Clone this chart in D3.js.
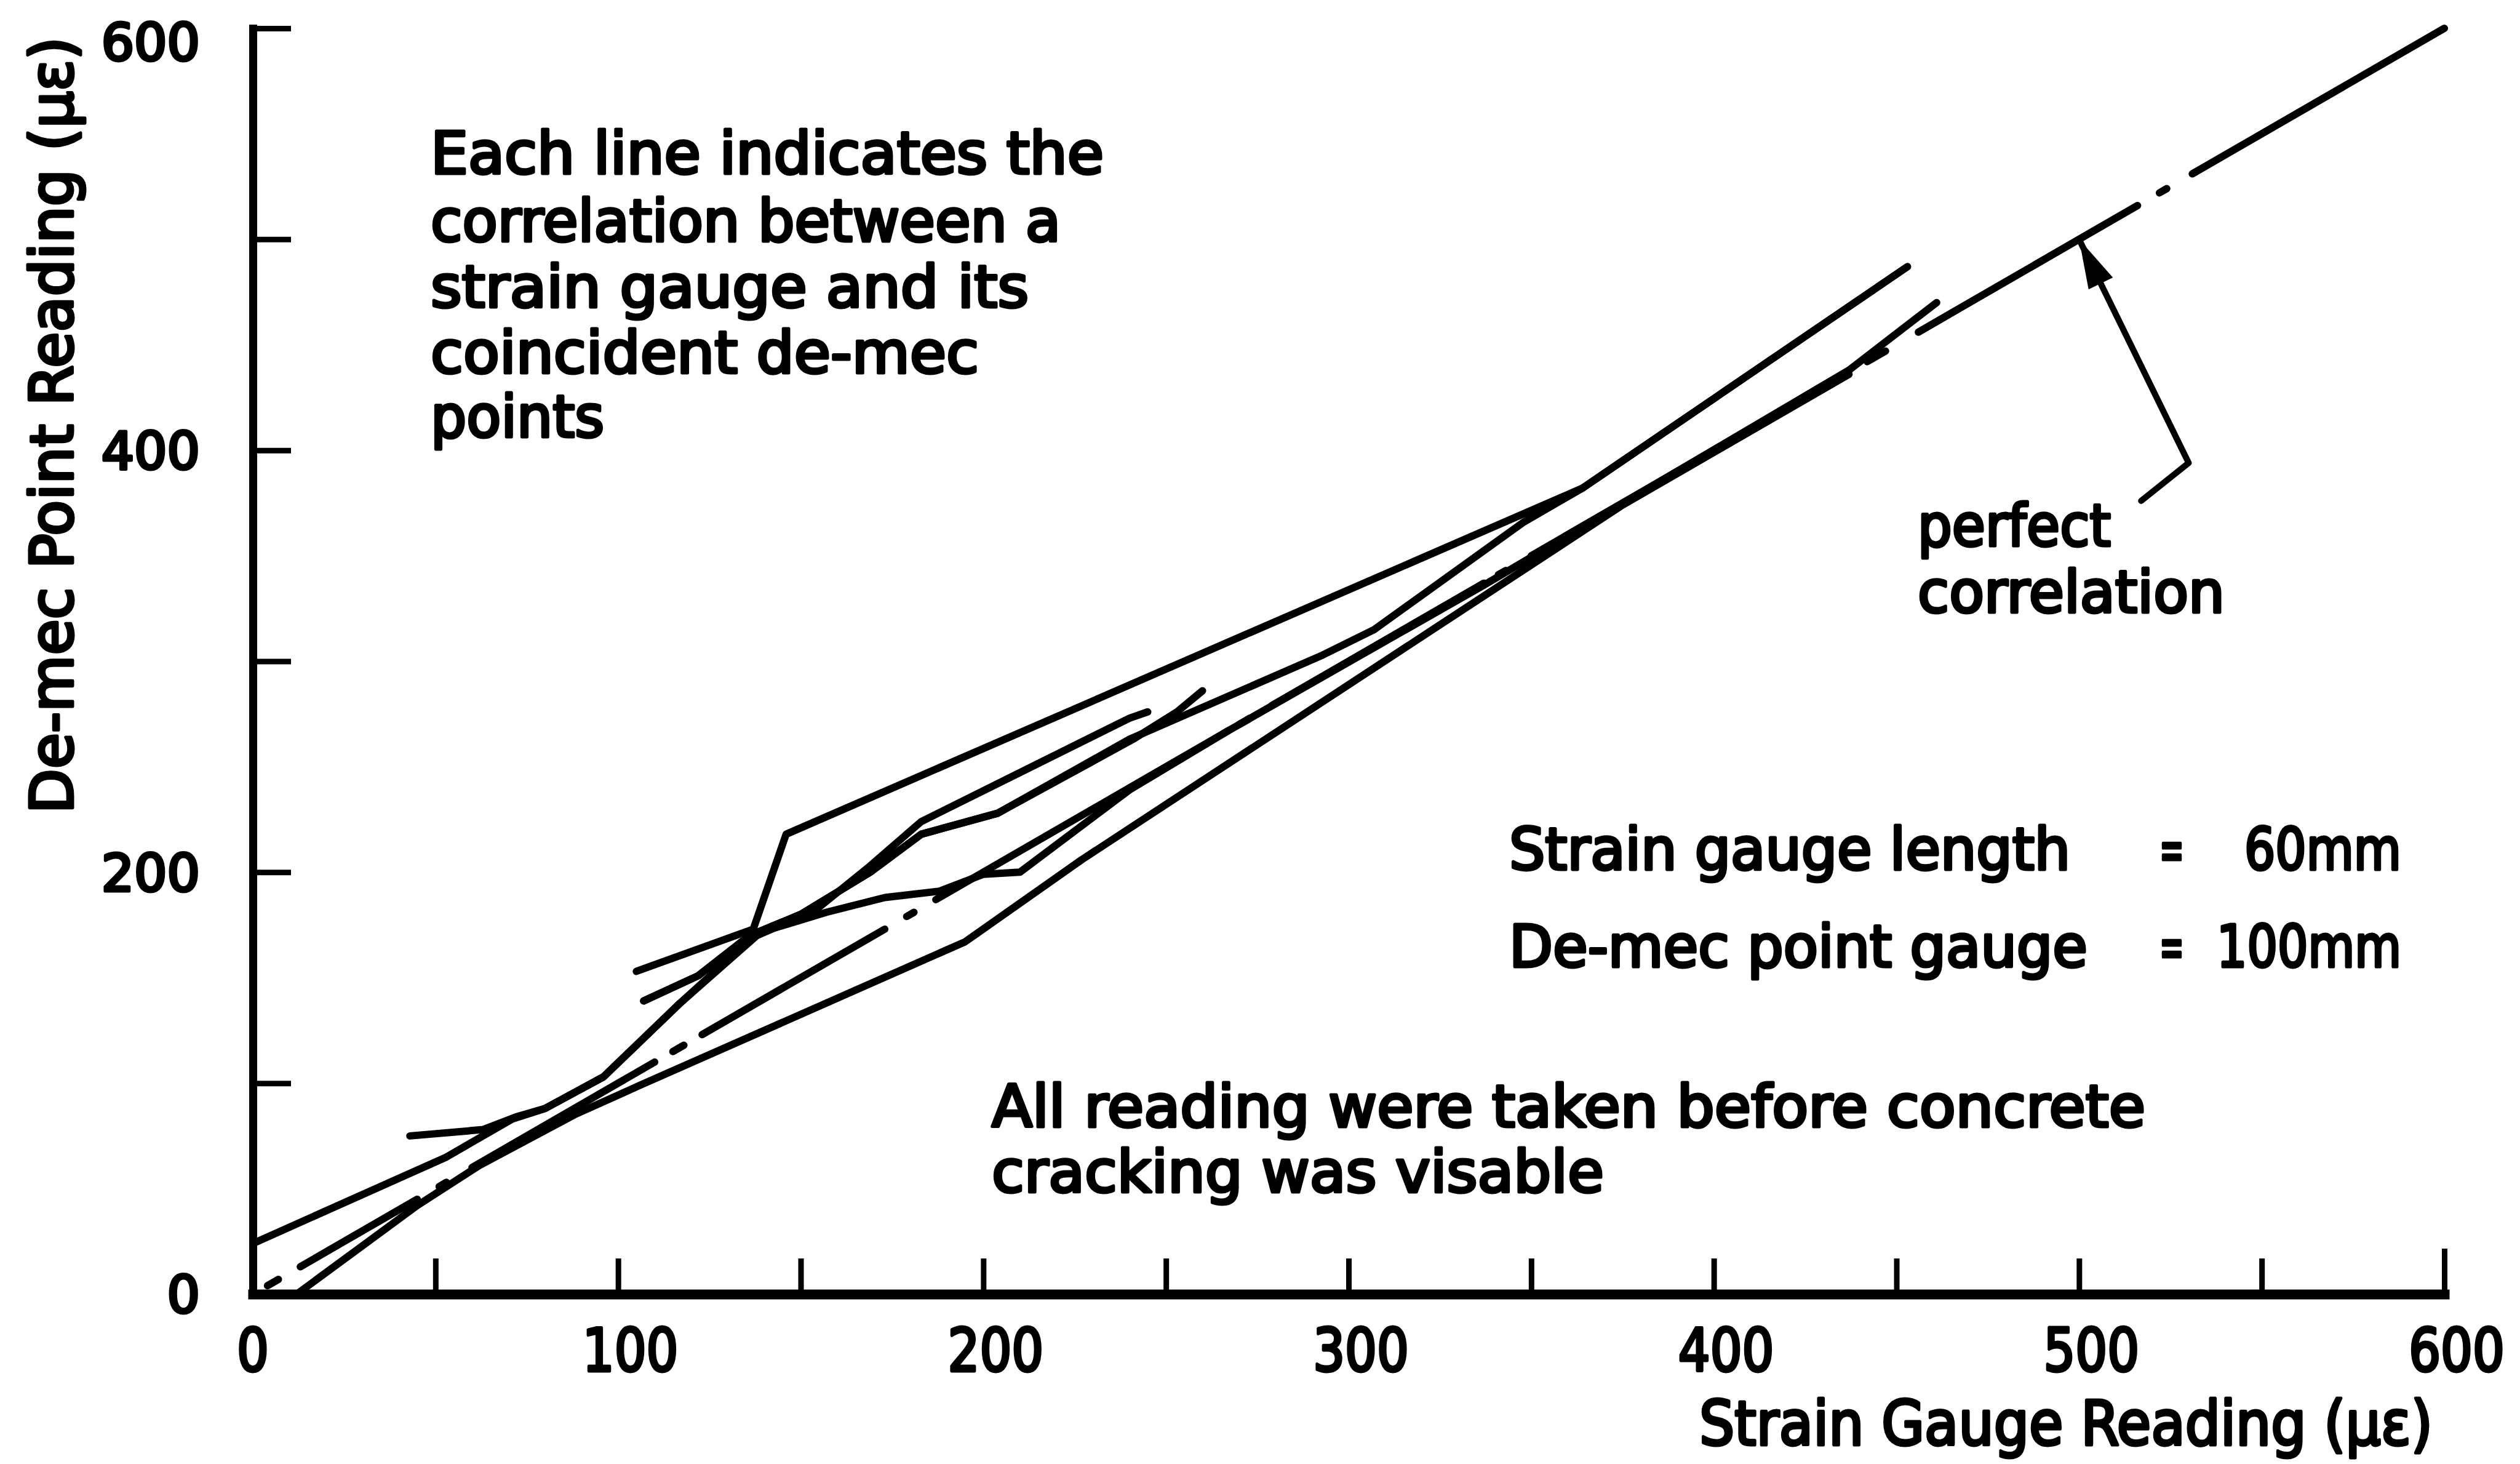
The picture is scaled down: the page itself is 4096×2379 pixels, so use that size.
<!DOCTYPE html>
<html lang="en">
<head>
<meta charset="UTF-8">
<title>De-mec point vs strain gauge readings</title>
<script src="https://d3js.org/d3.v7.min.js"></script>
<style>
  body { margin: 0; background: #fff; }
  svg text { font-family: "DejaVu Sans", sans-serif; fill: #000; stroke: #000; stroke-width: 5; stroke-linejoin: round; }
</style>
</head>
<body>
<svg id="chart" width="4096" height="2379"></svg>
<script>
// ---- data (micro-strain) ----
const xTicks = [50, 100, 150, 200, 250, 300, 350, 400, 450, 500, 550, 600];
const xLabels = [0, 100, 200, 300, 400, 500, 600];
const yTicks = [100, 200, 300, 400, 500, 600];
const yLabels = [0, 200, 400, 600];

// one line per strain gauge: [strain gauge reading, de-mec reading]
const gaugeA = [[0,24],[53,65],[71,83],[80,88],[96,103],[117,138],[138,170],[154,182],[169,203],[183,224],[240,273],[245,276]];
const gaugeB = [[43,75],[63,78],[72,84],[80,88],[96,103],[117,138],[138,171],[157,181],[173,188],[188,191],[200,199],[210,200],[240,239],[267,267],[337,336],[437,438],[461,470]];
const gaugeC = [[107,139],[122,151],[136,170],[150,180],[169,200],[183,218],[204,228],[240,263],[293,303],[307,315],[348,366],[364,382],[453,487]];
const gaugeD = [[105,153],[137,173],[146,218],[364,382],[453,487]];
const gaugeE = [[107,139],[122,151],[136,170],[150,180],[169,200],[183,218],[204,228],[241,263],[253,276],[260,286]];
const gaugeF = [[12,0],[45,42],[62,61],[88,85],[106,99],[195,167],[227,206],[375,374],[437,436]];

// perfect correlation y = x, drawn dash-dot: stretches of x where ink is
const perfectDashes = [[4,7],[13,45],[51,53],[60,110],[115,118],[123,173],[179,181],[187,267],[270,273],[279,337],[341,343],[350,436],[442,447],[456,516],[522,524],[531,600]];

// pointer from the "perfect correlation" label to the line
const arrowPoints = [[517,376],[530,394],[500,500]];

const svg = d3.select("#chart");
svg.append("rect").attr("width", 4096).attr("height", 2379).attr("fill", "#fff");

const x = d3.scaleLinear().domain([0, 600]).range([411, 3973]);
const y = d3.scaleLinear().domain([0, 600]).range([2103, 46]);

// x axis, ticks pointing up into the plot
const gx = svg.append("g")
    .attr("transform", `translate(0,${y(0)})`)
    .call(d3.axisBottom(x).tickValues(xTicks).tickSize(-58).tickSizeOuter(0).tickFormat(""));
gx.select(".domain").attr("stroke-width", 16).attr("stroke-linecap", "square");
gx.selectAll(".tick line").attr("stroke-width", 9).attr("y2", d => d === 600 ? -74 : -58);

// y axis, ticks pointing right
const gy = svg.append("g")
    .attr("transform", `translate(${x(0)},0)`)
    .call(d3.axisLeft(y).tickValues(yTicks).tickSize(-62).tickSizeOuter(0).tickFormat(""));
gy.select(".domain").attr("stroke-width", 13).attr("stroke-linecap", "square");
gy.selectAll(".tick line").attr("stroke-width", 9);

// tick labels
svg.append("g").selectAll("text")
    .data(xLabels)
    .join("text")
    .attr("transform", d => `translate(${x(d) + (d === 0 ? 0 : 20)},2228) scale(0.85,1)`)
    .attr("text-anchor", "middle")
    .attr("font-size", 96)
    .text(d => d);

svg.append("g").selectAll("text")
    .data(yLabels)
    .join("text")
    .attr("x", 325)
    .attr("y", d => y(d) + (d === 600 ? 22 : 0))
    .attr("dy", "0.36em")
    .attr("text-anchor", "end")
    .attr("font-size", 84)
    .text(d => d);

// axis titles
svg.append("text")
    .attr("transform", "translate(118,1322) rotate(-90)")
    .attr("font-size", 96)
    .attr("textLength", 1262)
    .attr("lengthAdjust", "spacingAndGlyphs")
    .text("De-mec Point Reading (\u03bc\u03b5)");

svg.append("text")
    .attr("x", 2762).attr("y", 2348)
    .attr("font-size", 100)
    .attr("textLength", 1192)
    .attr("lengthAdjust", "spacingAndGlyphs")
    .text("Strain Gauge Reading (\u03bc\u03b5)");

// perfect correlation line
svg.append("g").selectAll("line")
    .data(perfectDashes)
    .join("line")
    .attr("x1", d => x(d[0])).attr("y1", d => y(d[0]))
    .attr("x2", d => x(d[1])).attr("y2", d => y(d[1]))
    .attr("stroke", "#000")
    .attr("stroke-width", 12)
    .attr("stroke-linecap", "round");

// gauge lines
const line = d3.line().x(d => x(d[0])).y(d => y(d[1]));
svg.append("g").selectAll("path")
    .data([gaugeA, gaugeB, gaugeC, gaugeD, gaugeE, gaugeF])
    .join("path")
    .attr("d", line)
    .attr("fill", "none")
    .attr("stroke", "#000")
    .attr("stroke-width", 12)
    .attr("stroke-linecap", "round")
    .attr("stroke-linejoin", "round");

// arrow
svg.append("path")
    .attr("d", line(arrowPoints))
    .attr("fill", "none")
    .attr("stroke", "#000")
    .attr("stroke-width", 10)
    .attr("stroke-linecap", "round")
    .attr("stroke-linejoin", "round");

const tip = arrowPoints[arrowPoints.length - 1], prev = arrowPoints[arrowPoints.length - 2];
const tx = x(tip[0]), ty = y(tip[1]);
let dx = tx - x(prev[0]), dy = ty - y(prev[1]);
const len = Math.hypot(dx, dy); dx /= len; dy /= len;
const headLen = 80, headW = 22;
const bx = tx - dx * headLen, by = ty - dy * headLen;
svg.append("path")
    .attr("d", `M${tx},${ty}L${bx - dy * headW},${by + dx * headW}L${bx + dy * headW},${by - dx * headW}Z`)
    .attr("fill", "#000");

// notes
const notes = [
  {t: "Each line indicates the", x: 700, y: 282, w: 1094},
  {t: "correlation between a", x: 700, y: 392, w: 1024},
  {t: "strain gauge and its", x: 700, y: 499, w: 972},
  {t: "coincident de-mec", x: 700, y: 606, w: 891},
  {t: "points", x: 700, y: 710, w: 282},
  {t: "perfect", x: 3117, y: 887, w: 314},
  {t: "correlation", x: 3117, y: 995, w: 499},
  {t: "Strain gauge length", x: 2453, y: 1413, w: 912},
  {t: "=", x: 3510, y: 1413, w: 40},
  {t: "60mm", x: 3648, y: 1413, w: 255},
  {t: "De-mec point gauge", x: 2453, y: 1571, w: 940},
  {t: "=", x: 3510, y: 1571, w: 40},
  {t: "100mm", x: 3603, y: 1571, w: 300},
  {t: "All reading were taken before concrete", x: 1612, y: 1831, w: 1875},
  {t: "cracking was visable", x: 1612, y: 1937, w: 995}
];
svg.append("g").selectAll("text")
    .data(notes)
    .join("text")
    .attr("x", d => d.x)
    .attr("y", d => d.y)
    .attr("font-size", 94)
    .attr("textLength", d => d.w)
    .attr("lengthAdjust", "spacingAndGlyphs")
    .text(d => d.t);
</script>
</body>
</html>
